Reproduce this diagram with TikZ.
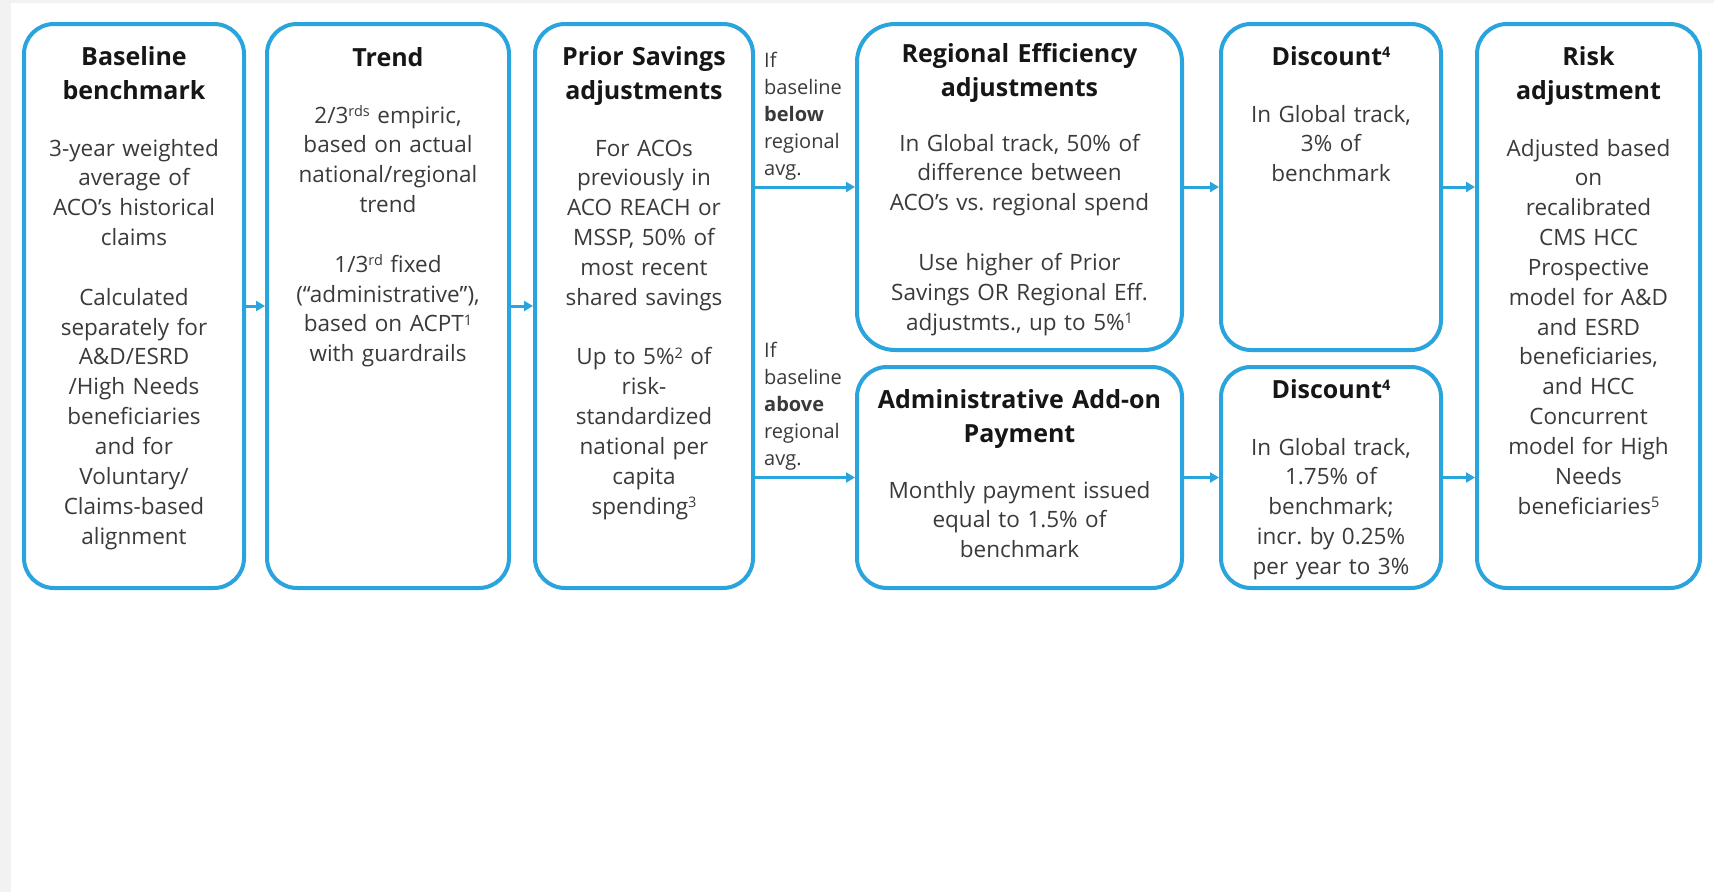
\documentclass[tikz,border=0pt]{standalone}
\usepackage{fontspec}
\setmainfont{Open Sans}
\usetikzlibrary{arrows.meta}
\frenchspacing

\definecolor{flowblue}{RGB}{41,164,220}
\definecolor{bodygray}{RGB}{58,58,58}
\definecolor{headink}{RGB}{22,22,22}
\definecolor{edgegray}{RGB}{242,242,242}

% small raised note markers, top level with the capitals
\newcommand\notemark[1]{\raisebox{0.3em}{\fontsize{14.5}{14.5}\selectfont #1}}

\begin{document}
\begin{tikzpicture}[x=1pt,y=-1pt,
  stage/.style={draw=flowblue, line width=4pt, rounded corners=30pt, inner sep=0pt},
  headtext/.style={font=\fontsize{25}{34}\selectfont\bfseries, text=headink,
    align=center, anchor=base, inner sep=0pt},
  bodytext/.style={font=\fontsize{22.5}{29.85}\selectfont, text=bodygray,
    align=center, anchor=base, inner sep=0pt},
  sidetext/.style={font=\fontsize{20}{27}\selectfont, text=bodygray,
    align=left, anchor=base west, inner sep=0pt, text width=88pt},
  flow/.style={draw=flowblue, line width=3pt, -{Triangle[length=9pt,width=10pt]}}]

% canvas with a thin grey margin on the top and left
\useasboundingbox (0,0) rectangle (1714,892);
\fill[edgegray] (0,0) rectangle (1714,892);
\fill[white] (11,3) rectangle (1714,892);

% ---- stage frames ----
\node[stage, minimum width=220pt, minimum height=564pt] (base)     at (134,306) {};
\node[stage, minimum width=242pt, minimum height=564pt] (trend)    at (388,306) {};
\node[stage, minimum width=218pt, minimum height=564pt] (prior)    at (644,306) {};
\node[stage, rounded corners=38pt, minimum width=325pt, minimum height=326pt] (regional) at (1019.5,187) {};
\node[stage, minimum width=325pt, minimum height=221pt] (admin)    at (1019.5,477.5) {};
\node[stage, minimum width=220pt, minimum height=326pt] (discTop)  at (1331,187) {};
\node[stage, minimum width=220pt, minimum height=221pt] (discBot)  at (1331,477.5) {};
\node[stage, minimum width=223pt, minimum height=564pt] (risk)     at (1588.5,306) {};

% ---- Baseline benchmark ----
\node[headtext, text width=210pt] (baseHead) at (134,65) {Baseline\\benchmark};
\node[bodytext, text width=212pt] (baseBody) at (134,156)
  {3-year weighted\\average of\\ACO’s historical\\claims\\[29.85pt]Calculated\\separately for\\A\&D/ESRD\\/High Needs\\beneficiaries\\and for\\Voluntary/\\Claims-based\\alignment};

% ---- Trend ----
\node[headtext, text width=232pt] (trendHead) at (388,66) {Trend};
\node[bodytext, text width=234pt] (trendBody) at (388,123)
  {2/3\notemark{rds} empiric,\\based on actual\\national/regional\\trend\\[29.85pt]1/3\notemark{rd} fixed\\(“administrative”),\\based on ACPT\notemark{1}\\with guardrails};

% ---- Prior Savings adjustments ----
\node[headtext, text width=212pt] (priorHead) at (644,65) {Prior Savings\\adjustments};
\node[bodytext, text width=212pt] (priorBody) at (644,156)
  {For ACOs\\previously in\\ACO REACH or\\MSSP, 50\% of\\most recent\\shared savings\\[29.85pt]Up to 5\%\notemark{2} of\\risk-\\standardized\\national per\\capita\\spending\notemark{3}};

% ---- branch conditions ----
\node[sidetext] (ifBelow) at (764,67) {If\\baseline\\\textbf{below}\\regional\\avg.};
\node[sidetext] (ifAbove) at (764,357) {If\\baseline\\\textbf{above}\\regional\\avg.};

% ---- Regional Efficiency adjustments ----
\node[headtext, text width=316pt] (regHead) at (1019.5,62) {Regional Efficiency\\adjustments};
\node[bodytext, text width=316pt] (regBody) at (1019.5,151)
  {In Global track, 50\% of\\difference between\\ACO’s vs. regional spend\\[29.85pt]Use higher of Prior\\Savings OR Regional Eff.\\adjustmts., up to 5\%\notemark{1}};

% ---- Administrative Add-on Payment ----
\node[headtext, text width=316pt] (adminHead) at (1019.5,408) {Administrative Add-on\\Payment};
\node[bodytext, text width=316pt] (adminBody) at (1019.5,498)
  {Monthly payment issued\\equal to 1.5\% of\\benchmark};

% ---- Discounts ----
\node[headtext, text width=212pt] (discTopHead) at (1331,65) {Discount\notemark{4}};
\node[bodytext, text width=212pt] (discTopBody) at (1331,122)
  {In Global track,\\3\% of\\benchmark};
\node[headtext, text width=212pt] (discBotHead) at (1331,398) {Discount\notemark{4}};
\node[bodytext, text width=212pt] (discBotBody) at (1331,455)
  {In Global track,\\1.75\% of\\benchmark;\\incr. by 0.25\%\\per year to 3\%};

% ---- Risk adjustment ----
\node[headtext, text width=214pt] (riskHead) at (1588.5,65) {Risk\\adjustment};
\node[bodytext, text width=216pt] (riskBody) at (1588.5,156)
  {Adjusted based\\on\\recalibrated\\CMS HCC\\Prospective\\model for A\&D\\and ESRD\\beneficiaries,\\and HCC\\Concurrent\\model for High\\Needs\\beneficiaries\notemark{5}};

% ---- connectors ----
\draw[flow] (base.east) -- (trend.west);
\draw[flow] (trend.east) -- (prior.west);
\draw[flow] (prior.east |- regional.west) -- (regional.west);
\draw[flow] (prior.east |- admin.west) -- (admin.west);
\draw[flow] (regional.east) -- (discTop.west);
\draw[flow] (admin.east) -- (discBot.west);
\draw[flow] (discTop.east) -- (risk.west |- discTop.east);
\draw[flow] (discBot.east) -- (risk.west |- discBot.east);
\end{tikzpicture}
\end{document}
